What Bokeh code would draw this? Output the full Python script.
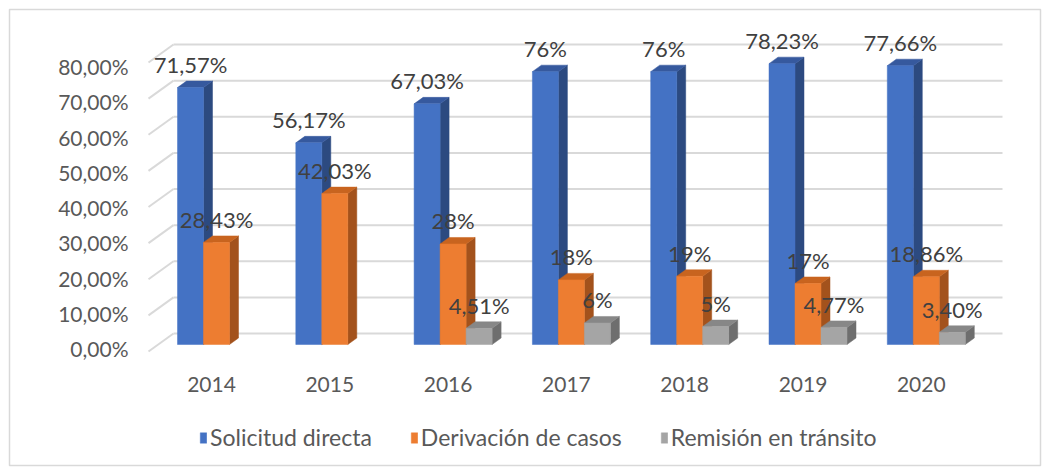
from bokeh.plotting import figure
from bokeh.models import Range1d, LinearAxis, FixedTicker, Legend, LegendItem, CustomJSTickFormatter
from bokeh.core.properties import value
from bokeh.embed import file_html
from bokeh.resources import INLINE

# ---------------- data ----------------
years = ["2014", "2015", "2016", "2017", "2018", "2019", "2020"]
solicitud = [71.57, 56.17, 67.03, 76, 76, 78.23, 77.66]
derivacion = [28.43, 42.03, 28, 18, 19, 17, 18.86]
remision = [None, None, 4.51, 6, 5, 4.77, 3.40]
solicitud_lbl = ["71,57%", "56,17%", "67,03%", "76%", "76%", "78,23%", "77,66%"]
derivacion_lbl = ["28,43%", "42,03%", "28%", "18%", "19%", "17%", "18,86%"]
remision_lbl = [None, None, "4,51%", "6%", "5%", "4,77%", "3,40%"]
series_names = ["Solicitud directa", "Derivación de casos", "Remisión en tránsito"]
ytick_values = [0, 10, 20, 30, 40, 50, 60, 70, 80]
ytick_labels = ["0,00%", "10,00%", "20,00%", "30,00%", "40,00%", "50,00%", "60,00%", "70,00%", "80,00%"]

# ---------------- layout / styling ----------------
FONT = "Lato"
W, H = 1042, 467
BL, BR, BT, BB = 9, 2, 9, 2
FW, FH = W - BL - BR, H - BT - BB
FRAME_LEFT = BL
FRAME_BOTTOM = BT + FH
PX_X = 118.3      # pixels per category
PX_Y = 3.59       # pixels per percent (bars)
PX_LBL = 3.525    # pixels per percent (front axis labels)
PX_BACK = 3.6125  # pixels per percent (back wall gridlines)

x0 = -(216 - FRAME_LEFT) / PX_X
y0 = -(FRAME_BOTTOM - 344) / PX_Y
lbl0 = -(FRAME_BOTTOM - 348) / PX_LBL
back0 = -(FRAME_BOTTOM - 333) / PX_BACK

def xpix(px):
    return (px - FRAME_LEFT) / PX_X + x0

p = figure(width=W, height=H, output_backend="svg", toolbar_location=None,
           x_range=Range1d(x0, x0 + FW / PX_X), y_range=Range1d(y0, y0 + FH / PX_Y),
           min_border_left=BL, min_border_right=BR, min_border_top=BT, min_border_bottom=BB,
           x_axis_location=None, y_axis_location=None)
p.extra_y_ranges = {"label": Range1d(lbl0, lbl0 + FH / PX_LBL),
                    "back": Range1d(back0, back0 + FH / PX_BACK)}
p.outline_line_color = "#D9D9D9"
p.outline_line_width = 1.5
p.border_fill_color = "white"
p.background_fill_color = "white"
p.xgrid.visible = False
p.ygrid.visible = False

# back-wall gridlines with small floor stubs
gx_start = xpix(173)
gx_end = xpix(1002)
stub_x = xpix(148)
stub_dy = 18 / PX_BACK
n = len(ytick_values)
p.segment(x0=[gx_start] * n, x1=[gx_end] * n, y0=ytick_values, y1=ytick_values,
          y_range_name="back", line_color="#D9D9D9", line_width=2)
p.segment(x0=[stub_x] * n, x1=[gx_start] * n, y0=[v - stub_dy for v in ytick_values],
          y1=ytick_values, y_range_name="back", line_color="#D9D9D9", line_width=2)

# y axis (front labels)
yax = LinearAxis(y_range_name="label", ticker=FixedTicker(ticks=ytick_values),
                 fixed_location=xpix(146))
yax.major_label_overrides = {v: l for v, l in zip(ytick_values, ytick_labels)}
yax.axis_line_color = None
yax.major_tick_line_color = None
yax.minor_tick_line_color = None
yax.major_label_standoff = 12
yax.major_label_text_font = FONT
yax.major_label_text_font_size = "21px"
yax.major_label_text_color = "#595959"
p.add_layout(yax, "left")

# x axis (category labels), pinned at the bar floor
LBL_SHIFT = 5 / PX_X
xax = LinearAxis(ticker=FixedTicker(ticks=[i - LBL_SHIFT for i in range(len(years))]),
                 fixed_location=0)
xax.formatter = CustomJSTickFormatter(args=dict(years=years),
                                      code="return years[Math.round(tick + 0.1)]")
xax.axis_line_color = None
xax.major_tick_line_color = None
xax.minor_tick_line_color = None
xax.major_label_standoff = 26
xax.major_label_text_font = FONT
xax.major_label_text_font_size = "21px"
xax.major_label_text_color = "#595959"
p.add_layout(xax, "below")

# ---------------- 3D bars ----------------
BW = 26 / PX_X
DX = 9 / PX_X
DY = 6.5 / PX_Y
series = [
    (solicitud, solicitud_lbl, -BW, ("#4472C4", "#2C4A80", "#36599E")),
    (derivacion, derivacion_lbl, 0.0, ("#ED7D31", "#A3521C", "#C8641F")),
    (remision, remision_lbl, BW, ("#A5A5A5", "#6E6E6E", "#878787")),
]
legend_items = []
label_sets = []
for (vals, lbls, off, (cf, cs, ct)), name in zip(series, series_names):
    idx = [i for i, v in enumerate(vals) if v is not None]
    xl = [i + off - BW / 2 for i in idx]
    xr = [i + off + BW / 2 for i in idx]
    vv = [vals[i] for i in idx]
    side_xs = [[r, r + DX, r + DX, r] for r in xr]
    side_ys = [[0, DY, v + DY, v] for v in vv]
    top_xs = [[l, r, r + DX, l + DX] for l, r in zip(xl, xr)]
    top_ys = [[v, v, v + DY, v + DY] for v in vv]
    p.patches(side_xs, side_ys, fill_color=cs, line_color=cs, line_width=0.5)
    p.patches(top_xs, top_ys, fill_color=ct, line_color=ct, line_width=0.5)
    front = p.quad(left=xl, right=xr, bottom=[0] * len(idx), top=vv,
                   fill_color=cf, line_color=cf, line_width=0.5)
    legend_items.append(LegendItem(label=name, renderers=[front]))
    label_sets.append(([i + off for i in idx], vv, [lbls[i] for i in idx]))

for xs, ys, ts in label_sets:
    p.text(x=xs, y=ys, text=ts, text_align="center", text_baseline="middle",
           y_offset=-23, text_font=value(FONT), text_font_size="22px",
           text_color="#404040")

legend = Legend(items=legend_items, orientation="horizontal", location=(190, 14))
legend.border_line_color = None
legend.background_fill_alpha = 0
legend.glyph_width = 8
legend.glyph_height = 13
legend.label_standoff = 3
legend.spacing = 38
legend.padding = 5
legend.margin = 0
legend.label_text_font = FONT
legend.label_text_font_size = "23px"
legend.label_text_color = "#595959"
p.add_layout(legend, "center")

open("out.html", "w").write(file_html(p, INLINE))
